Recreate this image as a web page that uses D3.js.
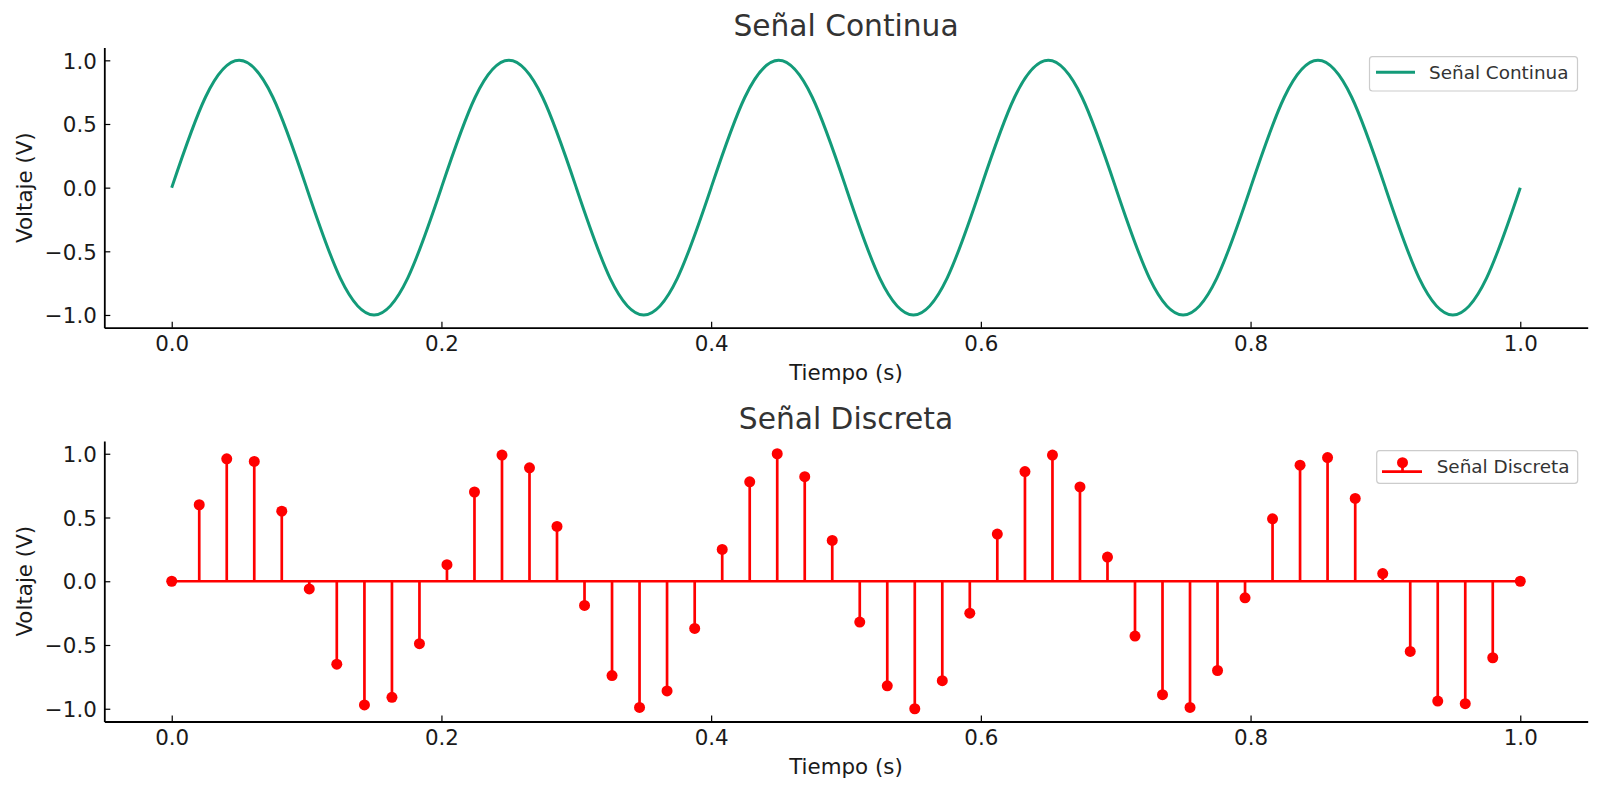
<!DOCTYPE html>
<html>
<head>
<meta charset="utf-8">
<script src="https://cdn.jsdelivr.net/npm/d3@7"></script>
<style>
  body { margin: 0; background: #fff; }
  svg { font-family: "DejaVu Sans", sans-serif; }
  .tick-label { font-size: 21.4px; fill: #1a1a1a; }
  .axis-label { font-size: 21.4px; fill: #1a1a1a; }
  .title { font-size: 29.7px; fill: #333; }
  .legend-text { font-size: 18.4px; fill: #333; }
</style>
</head>
<body>
<div id="chart"></div>
<script>
// continuous signal, read every 0.025 s
var contTime = [0, 0.025, 0.05, 0.075, 0.1, 0.125, 0.15, 0.175, 0.2, 0.225, 0.25, 0.275, 0.3, 0.325, 0.35, 0.375,
  0.4, 0.425, 0.45, 0.475, 0.5, 0.525, 0.55, 0.575, 0.6, 0.625, 0.65, 0.675, 0.7, 0.725, 0.75, 0.775,
  0.8, 0.825, 0.85, 0.875, 0.9, 0.925, 0.95, 0.975, 1.0];
var contVolt = [0, 0.71, 1, 0.71, 0, -0.71, -1, -0.71, 0, 0.71, 1, 0.71, 0, -0.71, -1, -0.71,
  0, 0.71, 1, 0.71, 0, -0.71, -1, -0.71, 0, 0.71, 1, 0.71, 0, -0.71, -1, -0.71,
  0, 0.71, 1, 0.71, 0, -0.71, -1, -0.71, 0];

// discrete samples
var discTime = [0, 0.0204, 0.0408, 0.0612, 0.0816, 0.1020, 0.1224, 0.1429, 0.1633, 0.1837,
  0.2041, 0.2245, 0.2449, 0.2653, 0.2857, 0.3061, 0.3265, 0.3469, 0.3673, 0.3878,
  0.4082, 0.4286, 0.4490, 0.4694, 0.4898, 0.5102, 0.5306, 0.5510, 0.5714, 0.5918,
  0.6122, 0.6327, 0.6531, 0.6735, 0.6939, 0.7143, 0.7347, 0.7551, 0.7755, 0.7959,
  0.8163, 0.8367, 0.8571, 0.8776, 0.8980, 0.9184, 0.9388, 0.9592, 0.9796, 1.0];
var discVolt = [0, 0.60, 0.96, 0.94, 0.55, -0.06, -0.65, -0.97, -0.91, -0.49,
  0.13, 0.70, 0.99, 0.89, 0.43, -0.19, -0.74, -0.99, -0.86, -0.37,
  0.25, 0.78, 1.00, 0.82, 0.32, -0.32, -0.82, -1.00, -0.78, -0.25,
  0.37, 0.86, 0.99, 0.74, 0.19, -0.43, -0.89, -0.99, -0.70, -0.13,
  0.49, 0.91, 0.97, 0.65, 0.06, -0.55, -0.94, -0.96, -0.60, 0];

var xTicks = [0, 0.2, 0.4, 0.6, 0.8, 1.0];
var yTicks = [-1, -0.5, 0, 0.5, 1];

var width = 1600, height = 793;
var green = "#139b79", red = "#ff0000";

var svg = d3.select("#chart").append("svg")
    .attr("width", width)
    .attr("height", height);

var x = d3.scaleLinear().domain([-0.05, 1.05]).range([104.3, 1587.7]);
var fmt = d3.format(".1f");

function drawAxes(g, y, title) {
    var top = y.range()[1], bottom = y.range()[0];

    g.append("text")
        .attr("class", "title")
        .attr("x", (x.range()[0] + x.range()[1]) / 2)
        .attr("y", top - 11.8)
        .attr("text-anchor", "middle")
        .text(title);

    var xAxis = g.append("g")
        .attr("transform", "translate(0," + bottom + ")")
        .call(d3.axisBottom(x).tickValues(xTicks).tickFormat(fmt).tickSizeInner(-6).tickSizeOuter(0).tickPadding(12));
    var yAxis = g.append("g")
        .attr("transform", "translate(" + x.range()[0] + ",0)")
        .call(d3.axisLeft(y).tickValues(yTicks).tickFormat(fmt).tickSizeInner(-6).tickSizeOuter(0).tickPadding(7.5));

    [xAxis, yAxis].forEach(function (a) {
        a.select(".domain").attr("stroke", "#000").attr("stroke-width", 1.8);
        a.selectAll(".tick line").attr("stroke", "#000").attr("stroke-width", 1.2);
        a.selectAll(".tick text").attr("class", "tick-label").attr("fill", null)
            .style("font-size", "21.4px").style("font-family", "DejaVu Sans");
    });
    xAxis.attr("font-size", null).attr("font-family", null);
    yAxis.attr("font-size", null).attr("font-family", null);
    xAxis.selectAll(".tick text").attr("dy", null).attr("y", 23.6);
    yAxis.selectAll(".tick text").attr("dy", "0.36em");

    g.append("text")
        .attr("class", "axis-label")
        .attr("x", (x.range()[0] + x.range()[1]) / 2)
        .attr("y", bottom + 52.5)
        .attr("text-anchor", "middle")
        .text("Tiempo (s)");

    g.append("text")
        .attr("class", "axis-label")
        .attr("text-anchor", "middle")
        .attr("transform", "translate(31.5," + (top + bottom) / 2 + ") rotate(-90)")
        .text("Voltaje (V)");
}

function legendBox(g, x0, y0, w, h) {
    g.append("rect")
        .attr("x", x0).attr("y", y0)
        .attr("width", w).attr("height", h)
        .attr("rx", 3)
        .attr("fill", "#fff").attr("fill-opacity", 0.8)
        .attr("stroke", "#cccccc").attr("stroke-width", 1.2);
}

// ---- top panel: continuous
var y1 = d3.scaleLinear().domain([-1.1, 1.1]).range([327.7, 47.6]);
var g1 = svg.append("g");
drawAxes(g1, y1, "Señal Continua");

var contData = contTime.map(function (t, i) { return { t: t, v: contVolt[i] }; });
var line = d3.line()
    .x(function (d) { return x(d.t); })
    .y(function (d) { return y1(d.v); })
    .curve(d3.curveNatural);

g1.append("path")
    .datum(contData)
    .attr("fill", "none")
    .attr("stroke", green)
    .attr("stroke-width", 3)
    .attr("d", line);

legendBox(g1, 1369.5, 56.7, 208, 34.3);
g1.append("line")
    .attr("x1", 1376).attr("x2", 1415)
    .attr("y1", 72.3).attr("y2", 72.3)
    .attr("stroke", green).attr("stroke-width", 3);
g1.append("text")
    .attr("class", "legend-text")
    .attr("x", 1429).attr("y", 79.3)
    .text("Señal Continua");

// ---- bottom panel: discrete (stem plot)
var y2 = d3.scaleLinear().domain([-1.1, 1.1]).range([721.5, 441]);
var g2 = svg.append("g");
drawAxes(g2, y2, "Señal Discreta");

var discData = discTime.map(function (t, i) { return { t: t, v: discVolt[i] }; });

g2.append("g").selectAll("line")
    .data(discData)
    .join("line")
    .attr("x1", function (d) { return x(d.t); })
    .attr("x2", function (d) { return x(d.t); })
    .attr("y1", y2(0))
    .attr("y2", function (d) { return y2(d.v); })
    .attr("stroke", red)
    .attr("stroke-width", 2.7);

g2.append("line")
    .attr("x1", x(discTime[0])).attr("x2", x(discTime[discTime.length - 1]))
    .attr("y1", y2(0)).attr("y2", y2(0))
    .attr("stroke", red).attr("stroke-width", 2.7);

g2.append("g").selectAll("circle")
    .data(discData)
    .join("circle")
    .attr("cx", function (d) { return x(d.t); })
    .attr("cy", function (d) { return y2(d.v); })
    .attr("r", 5.5)
    .attr("fill", red);

legendBox(g2, 1376.7, 450.7, 201, 32.6);
g2.append("line")
    .attr("x1", 1382).attr("x2", 1422)
    .attr("y1", 471.7).attr("y2", 471.7)
    .attr("stroke", red).attr("stroke-width", 2.7);
g2.append("line")
    .attr("x1", 1402.5).attr("x2", 1402.5)
    .attr("y1", 471.7).attr("y2", 462.7)
    .attr("stroke", red).attr("stroke-width", 2.7);
g2.append("circle")
    .attr("cx", 1402.5).attr("cy", 462.7).attr("r", 5.5)
    .attr("fill", red);
g2.append("text")
    .attr("class", "legend-text")
    .attr("x", 1436.7).attr("y", 472.7)
    .text("Señal Discreta");
</script>
</body>
</html>
